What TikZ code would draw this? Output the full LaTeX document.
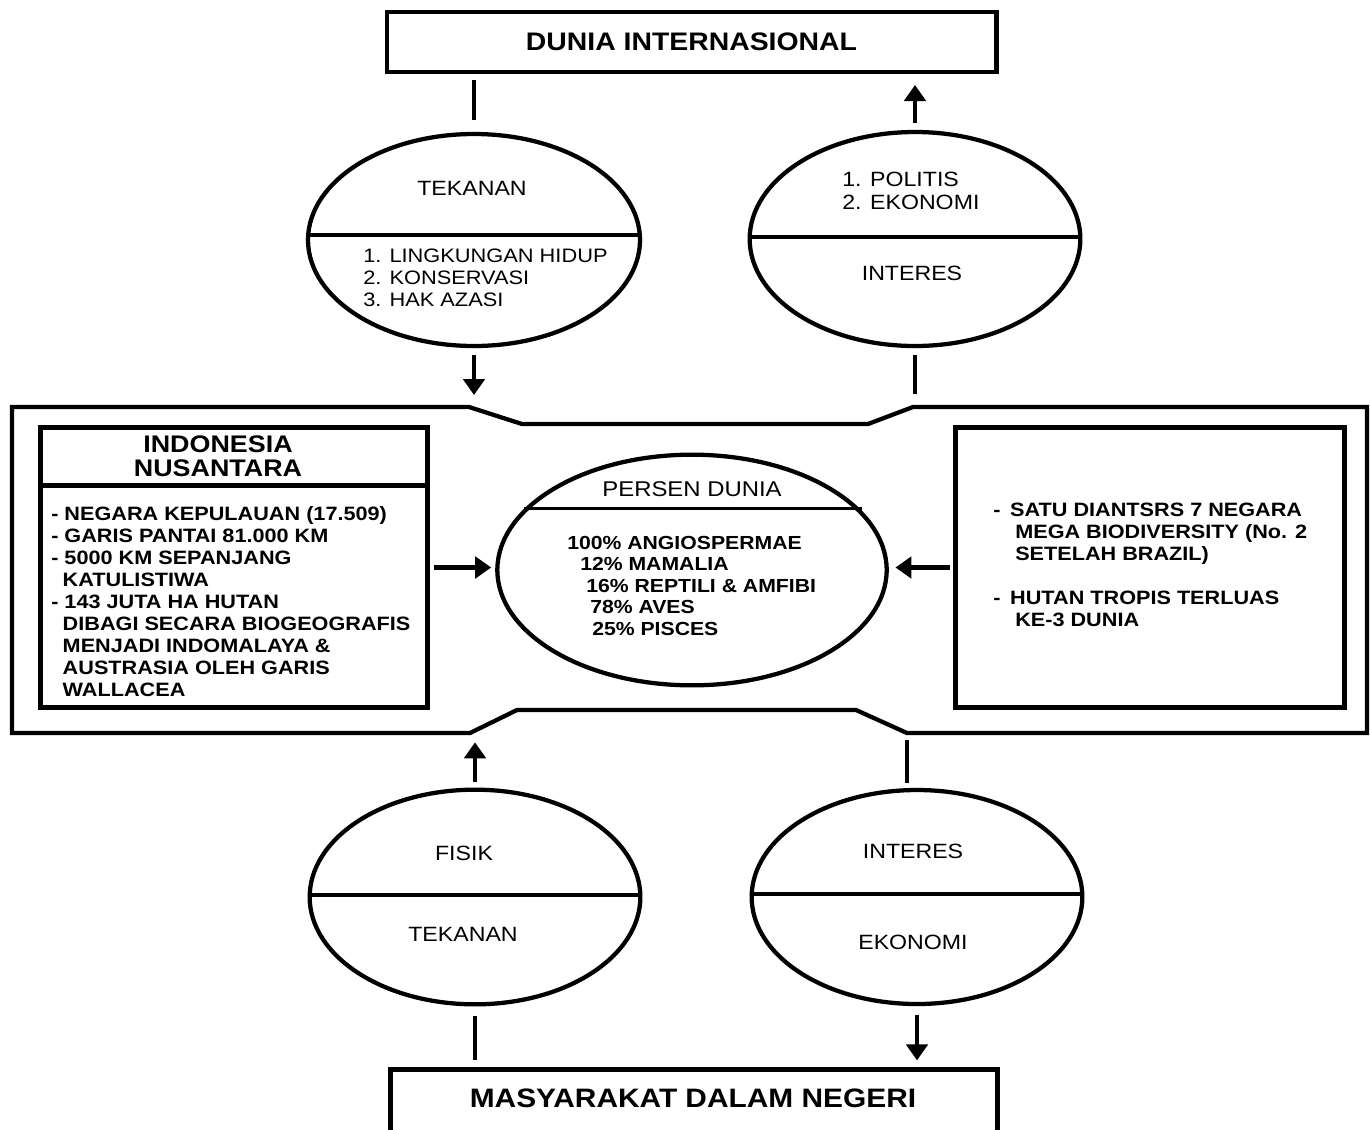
\documentclass[tikz,border=0pt]{standalone}
\usepackage{fontspec}
\setmainfont{Liberation Sans}[FakeStretch=1.12]
\usetikzlibrary{shapes.geometric,arrows.meta}
\begin{document}
\begin{tikzpicture}[x=0.75pt,y=-0.75pt,line join=miter,
  ell/.style={draw, ellipse, line width=3.2pt, inner sep=0pt},
  boxnode/.style={draw, rectangle, line width=3.5pt, inner sep=0pt},
  frame/.style={draw, line width=3.2pt},
  conn/.style={line width=3.6pt},
  arr/.style={line width=3.6pt, -{Triangle[length=12pt,width=16pt]}},
  divider/.style={line width=2.4pt},
  reg/.style={inner sep=0pt, font=\fontsize{15.5pt}{17pt}\selectfont},
  body/.style={inner sep=0pt, anchor=north west, align=left, font=\bfseries\fontsize{14.5pt}{16.5pt}\selectfont}]
\useasboundingbox (0,0) rectangle (1370,1129);
\fill[white] (0,0) rectangle (1370,1129);

% top and bottom boxes
\node[boxnode, minimum width=457pt, minimum height=45pt, font=\bfseries\fontsize{19pt}{21pt}\selectfont] (top) at (691.5,42) {DUNIA INTERNASIONAL};
\node[boxnode, minimum width=455pt, minimum height=90pt, anchor=north] (bot) at (694,1067) {};
\node[inner sep=0pt, font=\bfseries\fontsize{20pt}{22pt}\selectfont] (botT) at (693,1098) {MASYARAKAT DALAM NEGERI};

% container frame
\coordinate (cTL) at (469,407);
\coordinate (cTR) at (913,407);
\coordinate (cBL) at (470,733);
\coordinate (cBR) at (907,733);
\draw[frame] (12,407) -- (cTL) -- (522,424) -- (868,424) -- (cTR) -- (1367,407) -- (1367,733) -- (cBR) -- (856,710) -- (517,710) -- (cBL) -- (12,733) -- cycle;

% ellipses
\node[ell, minimum width=249pt, minimum height=159pt] (etl) at (474,240) {};
\node[ell, minimum width=248pt, minimum height=160.5pt] (etr) at (915,239) {};
\node[ell, minimum width=248pt, minimum height=161pt] (ebl) at (475,897) {};
\node[ell, minimum width=248pt, minimum height=160.5pt] (ebr) at (917,897) {};
\node[ell, minimum width=292pt, minimum height=173pt] (ec) at (692,570) {};

\draw[divider] ([yshift=3.75pt]etl.west) -- ([yshift=3.75pt]etl.east);
\draw[divider] ([yshift=1.5pt]etr.west) -- ([yshift=1.5pt]etr.east);
\draw[divider] ([yshift=1.5pt]ebl.west) -- ([yshift=1.5pt]ebl.east);
\draw[divider] ([yshift=2.25pt]ebr.west) -- ([yshift=2.25pt]ebr.east);
\draw[divider] (ec.160.8) -- (ec.160.8 -| ec.19.2);

% ellipse labels
\node[reg] (tlA) at (472,188) {TEKANAN};
\node[reg, anchor=north west, align=left, font=\fontsize{14.6pt}{16.5pt}\selectfont] (tlB) at (363,249) {1. LINGKUNGAN HIDUP\\2. KONSERVASI\\3. HAK AZASI};
\node[reg, anchor=north west, align=left] (trA) at (842,172) {1. POLITIS\\2. EKONOMI};
\node[reg] (trB) at (912,273) {INTERES};
\node[reg] (blA) at (464,853) {FISIK};
\node[reg] (blB) at (463,934) {TEKANAN};
\node[reg] (brA) at (913,851) {INTERES};
\node[reg] (brB) at (913,942) {EKONOMI};

\node[inner sep=0pt, font=\fontsize{16pt}{18pt}\selectfont] (ecT) at (692,489) {PERSEN DUNIA};
\node[body, font=\bfseries\fontsize{14.2pt}{16.1pt}\selectfont] (ecB) at (567,536) {100\% ANGIOSPERMAE\\\hspace*{9.75pt}12\% MAMALIA\\\hspace*{14.25pt}16\% REPTILI \& AMFIBI\\\hspace*{17.25pt}78\% AVES\\\hspace*{18.75pt}25\% PISCES};

% left box
\node[boxnode, minimum width=290pt, minimum height=210pt] (lb) at (234,567.5) {};
\draw[line width=3.5pt] ([yshift=-45pt]lb.north west) -- ([yshift=-45pt]lb.north east);
\node[inner sep=0pt, align=center, font=\bfseries\fontsize{18pt}{18pt}\selectfont] (lbT) at (218,456) {INDONESIA\\NUSANTARA};
\node[body] (lbB) at (51,506) {- NEGARA KEPULAUAN (17.509)\\- GARIS PANTAI 81.000 KM\\- 5000 KM SEPANJANG\\\hspace*{8.6pt}KATULISTIWA\\- 143 JUTA HA HUTAN\\\hspace*{8.6pt}DIBAGI SECARA BIOGEOGRAFIS\\\hspace*{8.6pt}MENJADI INDOMALAYA \&\\\hspace*{8.6pt}AUSTRASIA OLEH GARIS\\\hspace*{8.6pt}WALLACEA};

% right box
\node[boxnode, minimum width=292pt, minimum height=210pt] (rb) at (1150,567.5) {};
\node[body] (rbB) at (993,503) {-\hspace{7.3pt}SATU DIANTSRS 7 NEGARA\\\hspace*{16.5pt}MEGA BIODIVERSITY (No. 2\\\hspace*{16.5pt}SETELAH BRAZIL)\\[16.5pt]-\hspace{7.3pt}HUTAN TROPIS TERLUAS\\\hspace*{16.5pt}KE-3 DUNIA};

% connectors
\draw[conn, shorten <=4.5pt, shorten >=9pt] (top.south -| etl.north) -- (etl.north);
\draw[arr, shorten <=5pt, shorten >=8pt] (etr.north) -- (etr.north |- top.south);
\draw[arr, shorten <=5pt, shorten >=9pt] (etl.south) -- (etl.south |- cTL);
\draw[conn, shorten <=5pt, shorten >=10pt] (etr.south) -- (etr.south |- cTR);
\draw[arr, shorten <=3pt, shorten >=3pt] (lb.east) -- (lb.east -| ec.west);
\draw[arr, shorten <=2.5pt, shorten >=5pt] (rb.west) -- (rb.west -| ec.east);
\draw[arr, shorten <=4pt, shorten >=7pt] (ebl.north) -- (ebl.north |- cBL);
\draw[conn, shorten <=5pt, shorten >=4pt] (cBR) -- (cBR |- ebr.north);
\draw[conn, shorten <=7.5pt, shorten >=5pt] (ebl.south) -- (ebl.south |- bot.north);
\draw[arr, shorten <=6.5pt, shorten >=5pt] (ebr.south) -- (ebr.south |- bot.north);
\end{tikzpicture}
\end{document}
